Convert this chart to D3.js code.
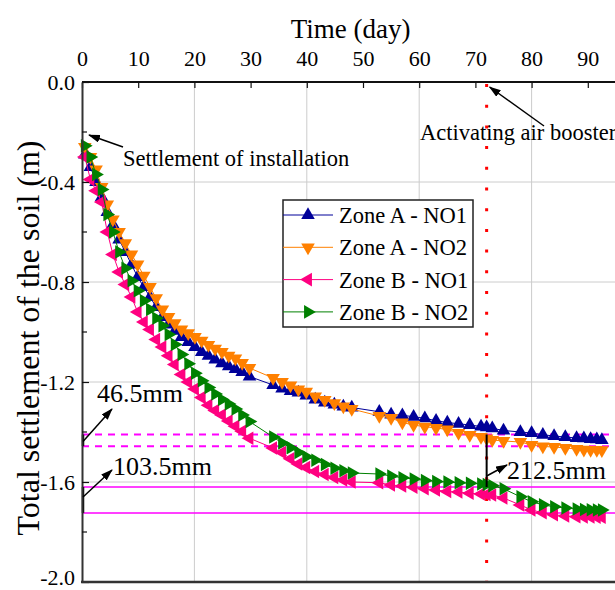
<!DOCTYPE html>
<html>
<head>
<meta charset="utf-8">
<script src="https://cdn.jsdelivr.net/npm/d3@7"></script>
<style>
  body { margin: 0; background: #fff; }
  svg { display: block; font-family: "Liberation Serif", "Times New Roman", serif; }
</style>
</head>
<body>
<svg id="chart" width="615" height="590"></svg>
<script>
// data
const days = [0.5,1.5,2.5,3.5,4.5,5.5,6.6,7.7,8.8,9.9,11,12.1,13.2,14.3,15.4,16.5,17.7,18.9,20.1,21.3,22.5,23.7,24.9,26.1,27.3,28.5,29.8,
  34,35.6,37.1,38.5,39.9,41.5,43.2,44.9,46.5,48,
  52.9,55,57,59,61,63,65,67,69,71,72,73,75,78,80,82,84,86,88,89.3,90.5,91.6,92.5];

const zoneA_NO1 = [-0.29,-0.34,-0.40,-0.46,-0.52,-0.57,-0.63,-0.68,-0.73,-0.78,-0.82,-0.86,-0.90,-0.94,-0.97,-0.995,-1.02,-1.04,-1.06,-1.08,-1.095,-1.11,-1.125,-1.137,-1.148,-1.16,-1.178,
  -1.212,-1.226,-1.236,-1.242,-1.254,-1.27,-1.282,-1.29,-1.298,-1.302,
  -1.319,-1.33,-1.333,-1.339,-1.345,-1.355,-1.362,-1.367,-1.372,-1.378,-1.381,-1.385,-1.394,-1.40,-1.404,-1.411,-1.416,-1.42,-1.424,-1.425,-1.428,-1.429,-1.432];

const zoneA_NO2 = [-0.26,-0.30,-0.35,-0.42,-0.49,-0.55,-0.60,-0.645,-0.69,-0.73,-0.775,-0.82,-0.865,-0.91,-0.94,-0.965,-0.99,-1.005,-1.02,-1.035,-1.052,-1.067,-1.08,-1.095,-1.106,-1.124,-1.144,
  -1.184,-1.2,-1.214,-1.23,-1.239,-1.258,-1.272,-1.285,-1.298,-1.308,
  -1.336,-1.344,-1.362,-1.372,-1.379,-1.384,-1.39,-1.404,-1.412,-1.42,-1.426,-1.432,-1.436,-1.44,-1.452,-1.458,-1.46,-1.464,-1.468,-1.471,-1.472,-1.472,-1.473];

const zoneB_NO1 = [-0.30,-0.39,-0.435,-0.48,-0.60,-0.69,-0.76,-0.81,-0.86,-0.92,-0.96,-0.99,-1.03,-1.06,-1.095,-1.13,-1.17,-1.2,-1.228,-1.262,-1.293,-1.314,-1.332,-1.356,-1.377,-1.397,-1.425,
  -1.464,-1.482,-1.507,-1.528,-1.542,-1.558,-1.57,-1.582,-1.592,-1.6,
  -1.603,-1.612,-1.616,-1.621,-1.627,-1.632,-1.638,-1.64,-1.645,-1.648,-1.65,-1.652,-1.664,-1.692,-1.712,-1.723,-1.731,-1.736,-1.739,-1.74,-1.74,-1.741,-1.741];

const zoneB_NO2 = [-0.255,-0.30,-0.37,-0.43,-0.53,-0.60,-0.68,-0.745,-0.795,-0.835,-0.875,-0.91,-0.945,-0.975,-1.01,-1.05,-1.09,-1.127,-1.165,-1.195,-1.222,-1.248,-1.27,-1.288,-1.308,-1.332,-1.358,
  -1.42,-1.444,-1.463,-1.482,-1.499,-1.513,-1.53,-1.545,-1.555,-1.564,
  -1.568,-1.576,-1.583,-1.588,-1.594,-1.598,-1.6,-1.603,-1.605,-1.608,-1.61,-1.615,-1.627,-1.659,-1.679,-1.691,-1.699,-1.704,-1.708,-1.71,-1.711,-1.712,-1.712];

const seriesNames = ['Zone A - NO1', 'Zone A - NO2', 'Zone B - NO1', 'Zone B - NO2'];
const xTicks = [0,10,20,30,40,50,60,70,80,90];
const yTicks = [0,-0.4,-0.8,-1.2,-1.6,-2.0];
const activateDay = 72;
const dashedRefs = [-1.41, -1.4565];   // 46.5mm
const solidRefs = [-1.62, -1.7235];    // 103.5mm

const colors = ['#000099', '#ff8000', '#ff0080', '#008000'];
const rotations = [0, 180, -90, 90];
const margin = { top: 82, left: 82 };
const plotBottom = 582;

const svg = d3.select('#chart');
const width = +svg.attr('width');

const x = d3.scaleLinear().domain([0, 95]).range([margin.left, margin.left + 95 * 5.62]);
const y = d3.scaleLinear().domain([0, -2]).range([margin.top, plotBottom]);

// arrow head
svg.append('defs').append('marker')
  .attr('id', 'arrow')
  .attr('markerUnits', 'userSpaceOnUse')
  .attr('markerWidth', 12).attr('markerHeight', 8)
  .attr('refX', 11).attr('refY', 4)
  .attr('orient', 'auto')
  .append('path').attr('d', 'M0,0 L12,4 L0,8 Z').attr('fill', '#000');

// grid
svg.append('g').selectAll('line').data([20, 40, 60, 80]).join('line')
  .attr('x1', d => x(d)).attr('x2', d => x(d))
  .attr('y1', margin.top).attr('y2', plotBottom)
  .attr('stroke', '#cccccc').attr('stroke-width', 1);
svg.append('g').selectAll('line').data([-0.4, -0.8, -1.2, -1.6]).join('line')
  .attr('x1', margin.left).attr('x2', width)
  .attr('y1', d => y(d)).attr('y2', d => y(d))
  .attr('stroke', '#cccccc').attr('stroke-width', 1);

// reference lines
svg.append('g').selectAll('line').data(dashedRefs).join('line')
  .attr('x1', margin.left).attr('x2', width)
  .attr('y1', d => y(d)).attr('y2', d => y(d))
  .attr('stroke', '#ff00ff').attr('stroke-width', 2)
  .attr('stroke-dasharray', '7 6');
svg.append('g').selectAll('line').data(solidRefs).join('line')
  .attr('x1', margin.left).attr('x2', width)
  .attr('y1', d => y(d)).attr('y2', d => y(d))
  .attr('stroke', '#ff00ff').attr('stroke-width', 1.5);

// activation line (red dots)
svg.append('line')
  .attr('x1', x(activateDay)).attr('x2', x(activateDay))
  .attr('y1', margin.top + 2).attr('y2', plotBottom)
  .attr('stroke', '#ff0000').attr('stroke-width', 3)
  .attr('stroke-dasharray', '3 17.7');

// series
const allSeries = [zoneA_NO1, zoneA_NO2, zoneB_NO1, zoneB_NO2];
const line = d3.line().x(d => x(d[0])).y(d => y(d[1]));
const tri = d3.symbol().type(d3.symbolTriangle).size(80);

allSeries.forEach(function (vals, i) {
  const pts = days.map((d, k) => [d, vals[k]]);
  svg.append('path')
    .datum(pts)
    .attr('fill', 'none')
    .attr('stroke', colors[i])
    .attr('stroke-width', 1)
    .attr('d', line);
  svg.append('g').selectAll('path').data(pts).join('path')
    .attr('d', tri)
    .attr('fill', colors[i])
    .attr('transform', d => 'translate(' + x(d[0]) + ',' + y(d[1]) + ') rotate(' + rotations[i] + ')');
});

// 212.5mm vertical bar
svg.append('line')
  .attr('x1', x(activateDay)).attr('x2', x(activateDay))
  .attr('y1', y(dashedRefs[0])).attr('y2', y(solidRefs[0]))
  .attr('stroke', '#000').attr('stroke-width', 2);

// brackets on the left axis
[dashedRefs, solidRefs].forEach(function (r) {
  svg.append('line')
    .attr('x1', margin.left + 1).attr('x2', margin.left + 1)
    .attr('y1', y(r[0])).attr('y2', y(r[1]))
    .attr('stroke', '#000').attr('stroke-width', 2.5);
});

// axes
const topAxis = svg.append('g')
  .attr('transform', 'translate(0,' + margin.top + ')')
  .call(d3.axisTop(x).tickValues(xTicks).tickSize(-6).tickSizeOuter(0).tickPadding(16));
topAxis.select('.domain').attr('d', 'M' + margin.left + ',0H' + width).attr('stroke', '#111').attr('stroke-width', 2);
topAxis.selectAll('.tick line').attr('stroke', '#111').attr('stroke-width', 1.2);
topAxis.selectAll('text').attr('font-size', 22).attr('font-family', '"Liberation Serif", serif').attr('fill', '#000');

const leftAxis = svg.append('g')
  .attr('transform', 'translate(' + margin.left + ',0)')
  .call(d3.axisLeft(y).tickValues(yTicks).tickSize(-7).tickSizeOuter(0).tickPadding(7)
    .tickFormat(d => d.toFixed(1)));
leftAxis.select('.domain').attr('stroke', '#333').attr('stroke-width', 2);
leftAxis.selectAll('.tick line').attr('stroke', '#111').attr('stroke-width', 1.2);
leftAxis.selectAll('text').attr('font-size', 22).attr('font-family', '"Liberation Serif", serif').attr('fill', '#000');
leftAxis.selectAll('.tick').filter(d => d === -2).select('text').attr('dy', '0.1em');

// minor ticks on y (inside)
svg.append('g').selectAll('line').data([-0.2, -0.6, -1.0, -1.4, -1.8]).join('line')
  .attr('x1', margin.left).attr('x2', margin.left + 5)
  .attr('y1', d => y(d)).attr('y2', d => y(d))
  .attr('stroke', '#111').attr('stroke-width', 1.2);

// bottom axis line
svg.append('line')
  .attr('x1', margin.left - 1).attr('x2', width)
  .attr('y1', plotBottom).attr('y2', plotBottom)
  .attr('stroke', '#333').attr('stroke-width', 2.5);

// axis titles
svg.append('text')
  .attr('x', (margin.left + width) / 2 + 2).attr('y', 38)
  .attr('text-anchor', 'middle').attr('font-size', 27)
  .text('Time (day)');
svg.append('text')
  .attr('transform', 'translate(39,338) rotate(-90)')
  .attr('text-anchor', 'middle').attr('font-size', 32)
  .text('Total settlement of the soil (m)');

// annotations
function arrow(x1, y1, x2, y2) {
  svg.append('line')
    .attr('x1', x1).attr('y1', y1).attr('x2', x2).attr('y2', y2)
    .attr('stroke', '#000').attr('stroke-width', 1.5)
    .attr('marker-end', 'url(#arrow)');
}
arrow(123, 147, 89, 135);
svg.append('text').attr('x', 123).attr('y', 166).attr('font-size', 22.5).text('Settlement of installation');

arrow(544, 126, x(activateDay) + 3, 87);
svg.append('text').attr('x', 420).attr('y', 140).attr('font-size', 22.5).text('Activating air booster');

arrow(margin.left + 1, y(dashedRefs[0]) + 7, 112, 409);
svg.append('text').attr('x', 97).attr('y', 402).attr('font-size', 26).text('46.5mm');

arrow(margin.left + 1, y(solidRefs[0]) + 10, 112, 470);
svg.append('text').attr('x', 113).attr('y', 475).attr('font-size', 26).text('103.5mm');

arrow(x(activateDay), 476, 507, 465);
svg.append('text').attr('x', 507).attr('y', 479).attr('font-size', 26).text('212.5mm');

// legend
const lg = svg.append('g').attr('transform', 'translate(283,200)');
lg.append('rect').attr('width', 190).attr('height', 127)
  .attr('fill', '#fff').attr('stroke', '#222').attr('stroke-width', 1.5);
seriesNames.forEach(function (name, i) {
  const cy = 15 + i * 32.3;
  lg.append('line').attr('x1', 0).attr('x2', 50).attr('y1', cy).attr('y2', cy)
    .attr('stroke', colors[i]).attr('stroke-width', 1);
  lg.append('path').attr('d', tri).attr('fill', colors[i])
    .attr('transform', 'translate(25,' + cy + ') rotate(' + rotations[i] + ')');
  lg.append('text').attr('x', 56).attr('y', cy + 8).attr('font-size', 22.5).text(name);
});
</script>
</body>
</html>
